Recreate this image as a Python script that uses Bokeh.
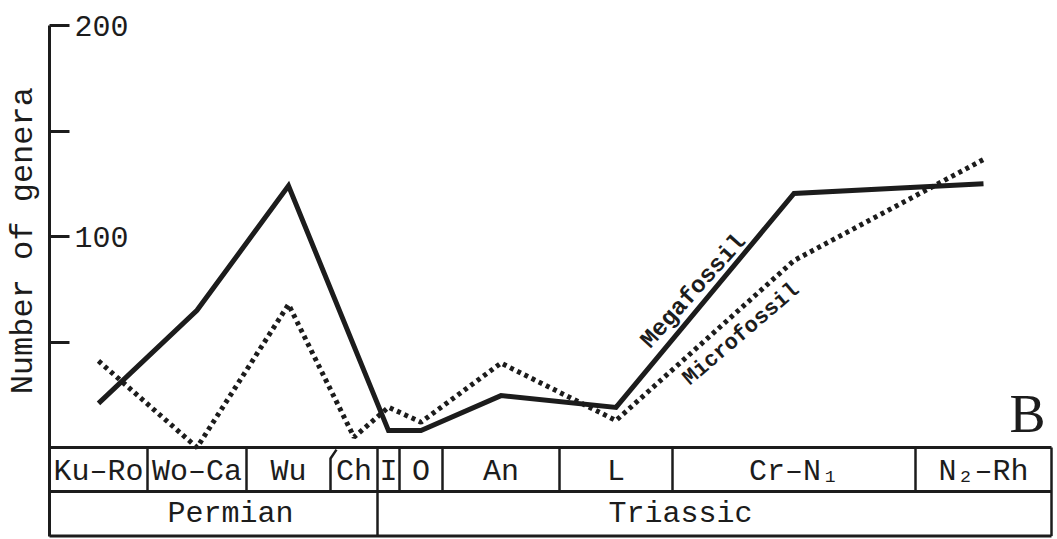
from bokeh.plotting import figure
from bokeh.models import LinearAxis, FixedTicker, Range1d
from bokeh.core.properties import value
from bokeh.embed import file_html
from bokeh.resources import INLINE
import math

# ---------------- data ----------------
stages = ["Ku–Ro", "Wo–Ca", "Wu", "Ch", "I", "O", "An", "L", "Cr–N₁", "N₂–Rh"]
stage_edges = [49, 147, 246, 330, 377, 399, 442, 559, 672, 915, 1051]
periods = ["Permian", "Triassic"]
period_edges = [49, 377, 1051]
period_label_x = [230, 680]

megafossil = [20.9, 65, 124, None, 8, 8, 24.6, 19, 120.4, 125]
microfossil = [41, 0, 67.8, 4.9, 19.1, 12, 40, 12.8, 88.6, 136.5]

y_labelled_ticks = [100, 200]
y_other_ticks = [0, 50, 150]
y_title = "Number of genera"

# ---------------- layout constants ----------------
ROW1 = -20.85
ROW2 = -42.0
FONT = "Liberation Mono"
INK = "#1c1c1c"

mids = [(stage_edges[i] + stage_edges[i + 1]) / 2 for i in range(len(stages))]

p = figure(width=1057, height=539,
           x_range=Range1d(0, 1057), y_range=Range1d(-43.6, 211.85),
           output_backend="svg", toolbar_location=None,
           x_axis_location=None, y_axis_location=None,
           min_border=0, outline_line_color=None,
           background_fill_color="white", border_fill_color="white")
p.grid.grid_line_color = None

# y axis (labels placed to the right of the inward ticks)
ax = LinearAxis(fixed_location=stage_edges[0], bounds=(ROW2, 200),
                ticker=FixedTicker(ticks=y_labelled_ticks,
                                   minor_ticks=y_other_ticks),
                major_tick_in=20, major_tick_out=0,
                minor_tick_in=20, minor_tick_out=0,
                axis_line_width=3, axis_line_color=INK,
                major_tick_line_width=3, major_tick_line_color=INK,
                minor_tick_line_width=3, minor_tick_line_color=INK,
                major_label_standoff=-79,
                major_label_text_font=FONT,
                major_label_text_font_size="30px",
                major_label_text_color=INK)
p.add_layout(ax, "left")

# axis title
p.text(x=[23], y=[98], text=[y_title], angle=math.pi / 2,
       text_font=value(FONT), text_font_size="32px",
       text_align="center", text_baseline="middle", text_color=INK)

# table lines
x0, x1 = stage_edges[0], stage_edges[-1]
p.segment(x0=[x0, x0, x0], y0=[0, ROW1, ROW2], x1=[x1, x1, x1],
          y1=[0, ROW1, ROW2], line_width=3, line_color=INK)
vx = [e for e in stage_edges[1:-1] if e != 330]
p.segment(x0=vx, y0=[0] * len(vx), x1=vx, y1=[ROW1] * len(vx),
          line_width=2.5, line_color=INK)
p.segment(x0=[period_edges[1], x1], y0=[ROW1, 0], x1=[period_edges[1], x1],
          y1=[ROW2, ROW2], line_width=2.5, line_color=INK)
p.line(x=[330, 330, 336], y=[ROW1, -5.2, -1.0], line_width=2.5,
       line_color=INK)

# table labels
p.text(x=mids, y=[ROW1 / 2 - 1.2] * len(mids), text=stages,
       text_font=value(FONT), text_font_size="30px", text_align="center",
       text_baseline="middle", text_color=INK)
p.text(x=period_label_x, y=[(ROW1 + ROW2) / 2 - 0.3] * 2, text=periods,
       text_font=value(FONT), text_font_size="30px", text_align="center",
       text_baseline="middle", text_color=INK)

# series
mx = [m for m, v in zip(mids, megafossil) if v is not None]
my = [v for v in megafossil if v is not None]
p.line(x=mx, y=my, line_width=5, line_color=INK, line_join="miter")
p.line(x=mids, y=microfossil, line_width=5, line_color=INK,
       line_dash="4 4")

# series labels
p.text(x=[693], y=[(447 - 290.7) / 2.11], text=["Megafossil"],
       angle=math.radians(48), text_font=value(FONT), text_font_size="24px",
       text_font_style="bold", text_align="center", text_baseline="middle",
       text_color=INK)
p.text(x=[741], y=[(447 - 334) / 2.11], text=["Microfossil"],
       angle=math.radians(40.5), text_font=value(FONT), text_font_size="22px",
       text_font_style="bold", text_align="center", text_baseline="middle",
       text_color=INK)

# panel letter
p.text(x=[1027], y=[16.1], text=["B"], text_font=value("Liberation Serif"),
       text_font_size="54px", text_align="center", text_baseline="middle",
       text_color=INK)

open("out.html", "w").write(file_html(p, INLINE))
